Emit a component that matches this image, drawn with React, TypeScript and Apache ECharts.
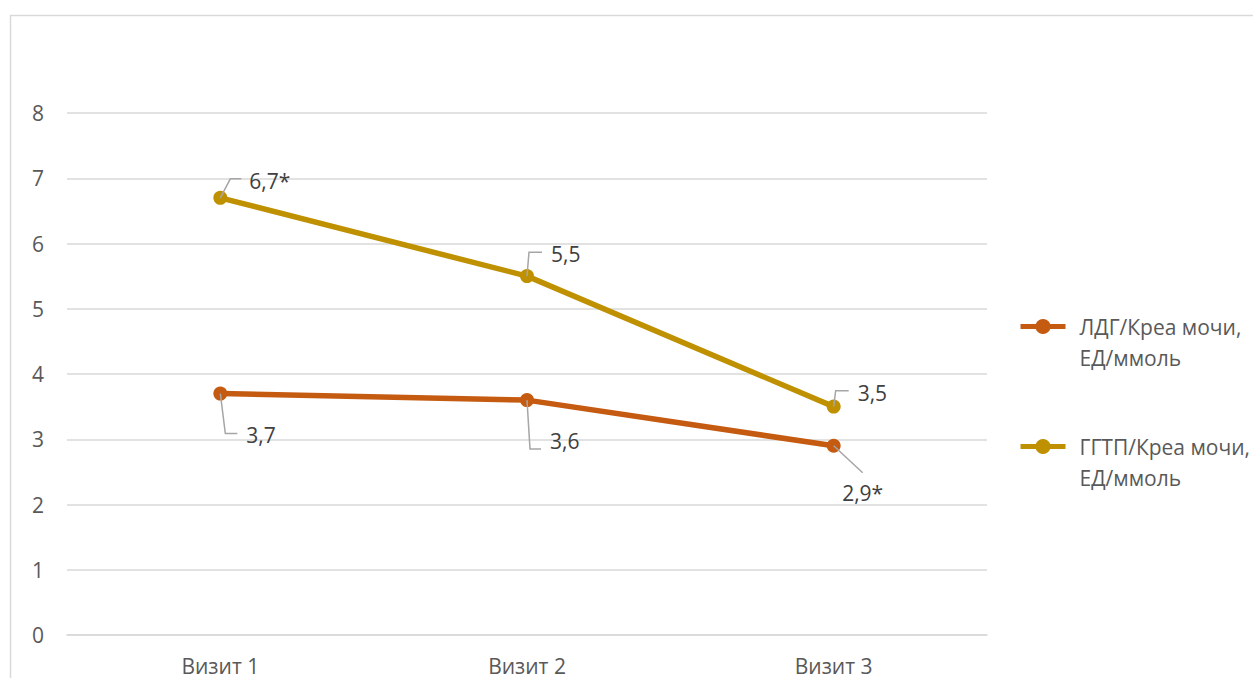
import React, { useEffect, useRef } from "react";
import * as echarts from "echarts";

// Visits on the category axis
const categories = ["Визит 1", "Визит 2", "Визит 3"];

// Series values, ЕД/ммоль
const ldgName = "ЛДГ/Креа мочи, ЕД/ммоль";
const ldgValues = [3.7, 3.6, 2.9];
const ldgMarks = ["", "", "*"];

const ggtpName = "ГГТП/Креа мочи, ЕД/ммоль";
const ggtpValues = [6.7, 5.5, 3.5];
const ggtpMarks = ["*", "", ""];

// Value axis range
const yMin = 0;
const yMax = 8;
const yStep = 1;

// Callout placement (pixel offsets from each point): leader bends and label anchor
type Callout = { leader: number[][]; text: number[]; align: "left" | "center" };
const ldgCallouts: Callout[] = [
  { leader: [[5, 40], [17, 40]], text: [26, 41], align: "left" },
  { leader: [[3, 49], [14, 49]], text: [23, 41], align: "left" },
  { leader: [[29, 27]], text: [29, 47], align: "center" },
];
const ggtpCallouts: Callout[] = [
  { leader: [[10, -19], [21, -19]], text: [29, -17], align: "left" },
  { leader: [[2, -24], [15, -24]], text: [24, -22], align: "left" },
  { leader: [[2, -16], [15, -16]], text: [24, -14], align: "left" },
];

const FONT = '"Open Sans", "Noto Sans", sans-serif';
const FONT_SIZE = 21;
const ORANGE = "#C55A11";
const GOLD = "#BF9000";

const fmt = (v: number) => v.toFixed(1).replace(".", ",");

function calloutSeries(name: string, values: number[], marks: string[], callouts: Callout[]) {
  return {
    type: "custom",
    name,
    silent: true,
    z: 5,
    data: values.map((v, i) => [i, v]),
    renderItem: (params: any, api: any) => {
      const i = params.dataIndex;
      const v = api.value(1) as number;
      const [px, py] = api.coord([api.value(0), v]);
      const c = callouts[i];
      const pts = [[px, py], ...c.leader.map(([dx, dy]) => [px + dx, py + dy])];
      return {
        type: "group",
        children: [
          {
            type: "polyline",
            shape: { points: pts },
            style: { stroke: "#a6a6a6", lineWidth: 1.5, fill: null },
          },
          {
            type: "text",
            x: px + c.text[0],
            y: py + c.text[1],
            style: {
              text: fmt(v) + marks[i],
              fill: "#404040",
              fontSize: FONT_SIZE,
              fontFamily: FONT,
              align: c.align,
              verticalAlign: "middle",
            },
          },
        ],
      };
    },
  };
}

export default function App() {
  const ref = useRef<HTMLDivElement>(null);

  useEffect(() => {
    if (!ref.current) return;
    const chart = echarts.init(ref.current, undefined, { renderer: "svg" });
    chart.setOption({
      animation: false,
      backgroundColor: "#ffffff",
      textStyle: { fontFamily: FONT },
      graphic: [
        {
          type: "rect",
          silent: true,
          shape: { x: 10.5, y: 15.5, width: 1300, height: 700 },
          style: { fill: "none", stroke: "#d9d9d9", lineWidth: 1.5 },
        },
      ],
      grid: { left: 67, right: 266, top: 113, bottom: 43 },
      legend: {
        data: [ldgName, ggtpName],
        orient: "vertical",
        left: 1018,
        top: 280,
        padding: 0,
        itemGap: 27,
        itemWidth: 45,
        itemHeight: 19,
        selectedMode: false,
        lineStyle: { width: 5 },
        formatter: (name: string) => " \n" + name.replace(", ", ",\n"),
        textStyle: {
          color: "#595959",
          fontSize: FONT_SIZE,
          lineHeight: 31,
          fontFamily: FONT,
          padding: [0, 0, 0, 9],
        },
      },
      xAxis: {
        type: "category",
        data: categories,
        boundaryGap: true,
        axisLine: { show: true, lineStyle: { color: "#d9d9d9", width: 1.5 } },
        axisTick: { show: false },
        axisLabel: { color: "#595959", fontSize: FONT_SIZE, margin: 20, fontFamily: FONT },
      },
      yAxis: {
        type: "value",
        min: yMin,
        max: yMax,
        interval: yStep,
        axisLine: { show: false },
        axisTick: { show: false },
        axisLabel: { color: "#595959", fontSize: FONT_SIZE, margin: 23, fontFamily: FONT },
        splitLine: { lineStyle: { color: "#d9d9d9", width: 1.5 } },
      },
      series: [
        {
          type: "line",
          name: ldgName,
          data: ldgValues,
          symbol: "circle",
          symbolSize: 14,
          z: 3,
          itemStyle: { color: ORANGE },
          lineStyle: { color: ORANGE, width: 5.5 },
          emphasis: { disabled: true },
        },
        {
          type: "line",
          name: ggtpName,
          data: ggtpValues,
          symbol: "circle",
          symbolSize: 14,
          z: 3,
          itemStyle: { color: GOLD },
          lineStyle: { color: GOLD, width: 5.5 },
          emphasis: { disabled: true },
        },
        calloutSeries("ЛДГ подписи", ldgValues, ldgMarks, ldgCallouts),
        calloutSeries("ГГТП подписи", ggtpValues, ggtpMarks, ggtpCallouts),
      ],
    });
    return () => chart.dispose();
  }, []);

  return (
    <div
      ref={ref}
      style={{ position: "absolute", left: 0, top: 0, width: 1253, height: 678 }}
    />
  );
}
